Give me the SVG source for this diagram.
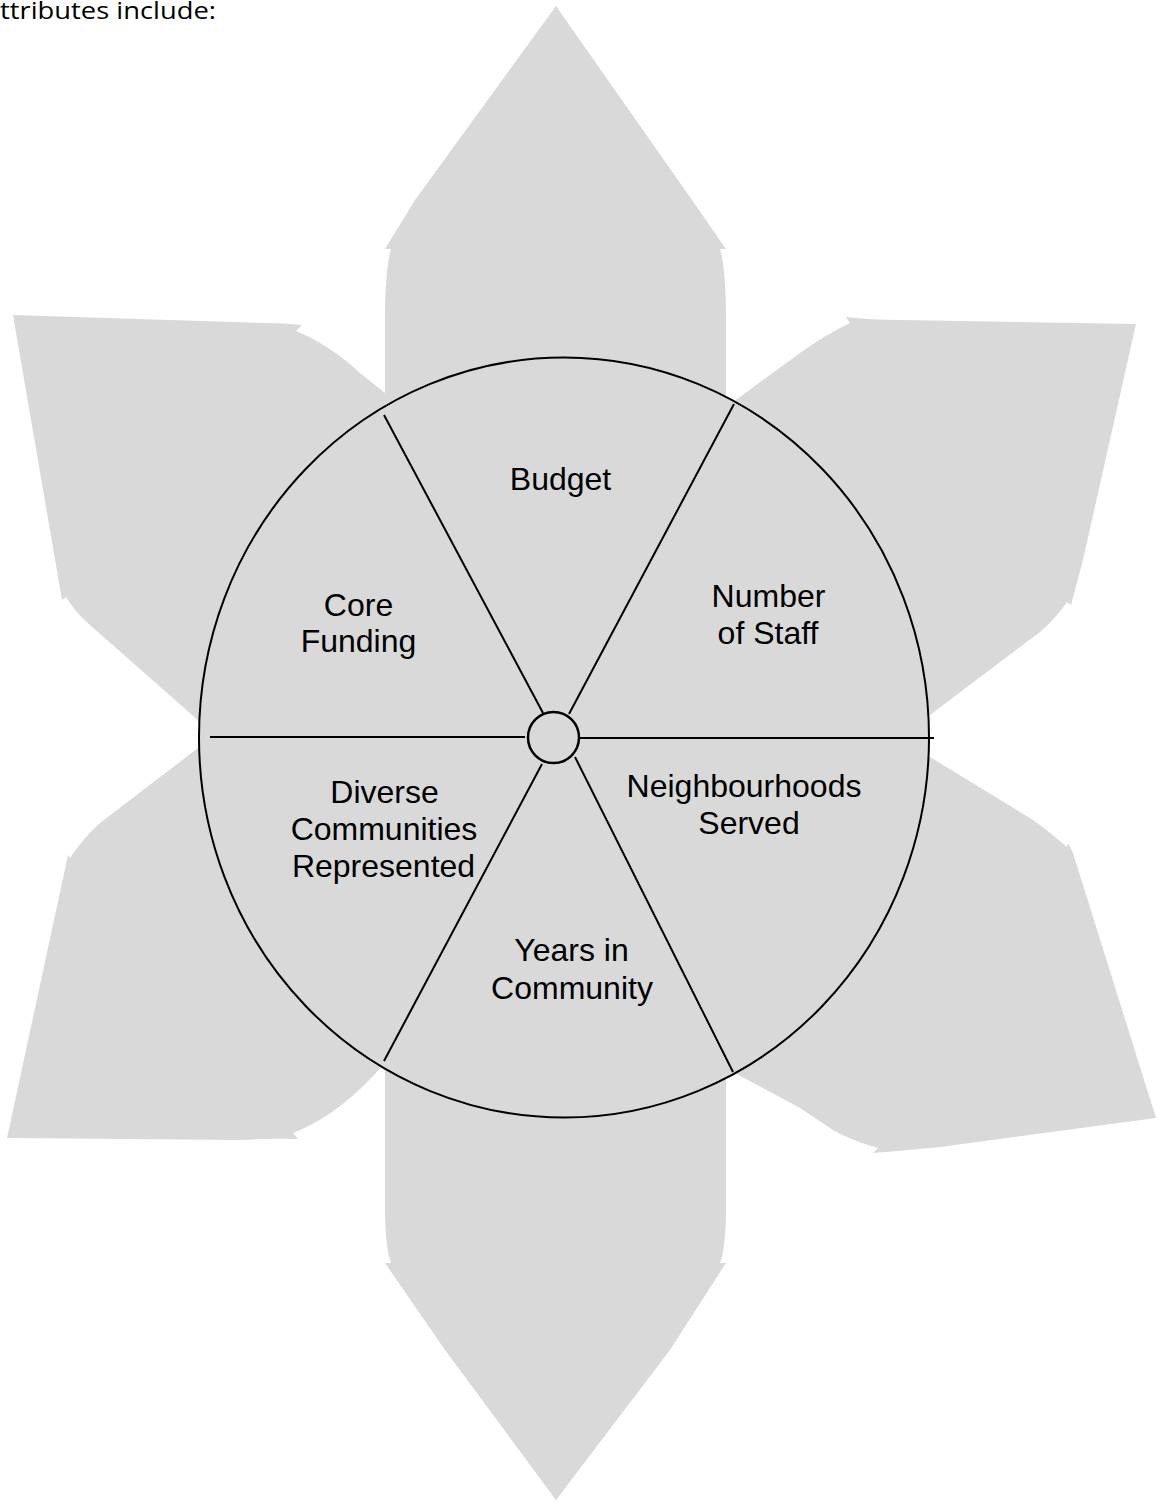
<svg xmlns="http://www.w3.org/2000/svg" width="1156" height="1505" viewBox="0 0 1156 1505">
<style>
.petal{fill:#d9d9d9;stroke:none}
.ring{fill:#d9d9d9;stroke:#000;stroke-width:2}
.spoke{stroke:#000;stroke-width:2;fill:none}
.lbl{font-family:"Liberation Sans",Arial,sans-serif;font-size:32px;fill:#000;text-anchor:middle}
.intro{font-family:"Open Sans","DejaVu Sans",sans-serif;font-size:23px;fill:#000}
</style>
<rect width="1156" height="1505" fill="#fff"/>
<text class="intro" x="0" y="18.5" textLength="216" lengthAdjust="spacingAndGlyphs">ttributes include:</text>
<g id="petals">
<path id="petal-top" class="petal" d="M556,6 L415,200 L385,249 L391,249 Q386,265 385,310 L385,740 L726,740 L726,310 Q725,265 720,249 L726,249 L692,200 Z"/>
<path id="petal-bottom" class="petal" d="M385,737 L385,1215 Q386,1250 391,1263 L385,1263 L445,1350 L556,1500 L670,1350 L726,1263 L720,1263 Q725,1250 726,1215 L726,737 Z"/>
<path id="petal-upper-left" class="petal" d="M13,315 L265,323 Q285,323 302,325 L296,331 Q330,345 360,373 L385,393 L556,737 L200,722 L90,625 Q75,612 66,597 L62,600 Z"/>
<path id="petal-upper-right" class="petal" d="M846,317 Q870,320 900,320 L1136,324 L1083,560 L1071,605 L1067,602 Q1057,617 1040,632 L930,715 L556,737 L733,402 L800,353 Q825,335 850,323 Z"/>
<path id="petal-lower-left" class="petal" d="M198,748 L100,823 Q85,836 70,858 L68,855 L7,1138 L240,1140 Q270,1138 298,1139 L293,1133 Q340,1115 385,1063 L556,737 Z"/>
<path id="petal-lower-right" class="petal" d="M930,757 L1033,820 Q1050,832 1067,847 L1068,843 L1073,853 L1156,1118 L940,1147 Q910,1150 873,1153 L878,1148 Q850,1140 833,1130 L800,1108 L733,1072 L556,737 Z"/>
</g>
<g id="wheel">
<ellipse id="outer-ring" class="ring" cx="564" cy="737.5" rx="365" ry="380"/>
</g>
<g id="connectors">
<line class="spoke" x1="384" y1="415" x2="543" y2="713"/>
<line class="spoke" x1="734" y1="404" x2="569" y2="714"/>
<line class="spoke" x1="210" y1="737" x2="525" y2="737"/>
<line class="spoke" x1="580" y1="738" x2="934" y2="738"/>
<line class="spoke" x1="542" y1="764" x2="384" y2="1061"/>
<line class="spoke" x1="575" y1="757" x2="733" y2="1072"/>
</g>
<g id="hub">
<circle cx="553.5" cy="737.5" r="25.5" fill="#d9d9d9" stroke="#000" stroke-width="2.5"/>
</g>
<g id="node-budget"><text class="lbl" x="560.5" y="490">Budget</text></g>
<g id="node-staff"><text class="lbl" x="768.5" y="607">Number</text><text class="lbl" x="768" y="644">of Staff</text></g>
<g id="node-core"><text class="lbl" x="358.5" y="616">Core</text><text class="lbl" x="358.5" y="652">Funding</text></g>
<g id="node-diverse"><text class="lbl" x="384.5" y="803">Diverse</text><text class="lbl" x="384" y="840">Communities</text><text class="lbl" x="383.5" y="877">Represented</text></g>
<g id="node-neighbourhoods"><text class="lbl" x="744" y="797">Neighbourhoods</text><text class="lbl" x="749" y="834">Served</text></g>
<g id="node-years"><text class="lbl" x="571.5" y="961">Years in</text><text class="lbl" x="572" y="999">Community</text></g>
</svg>
